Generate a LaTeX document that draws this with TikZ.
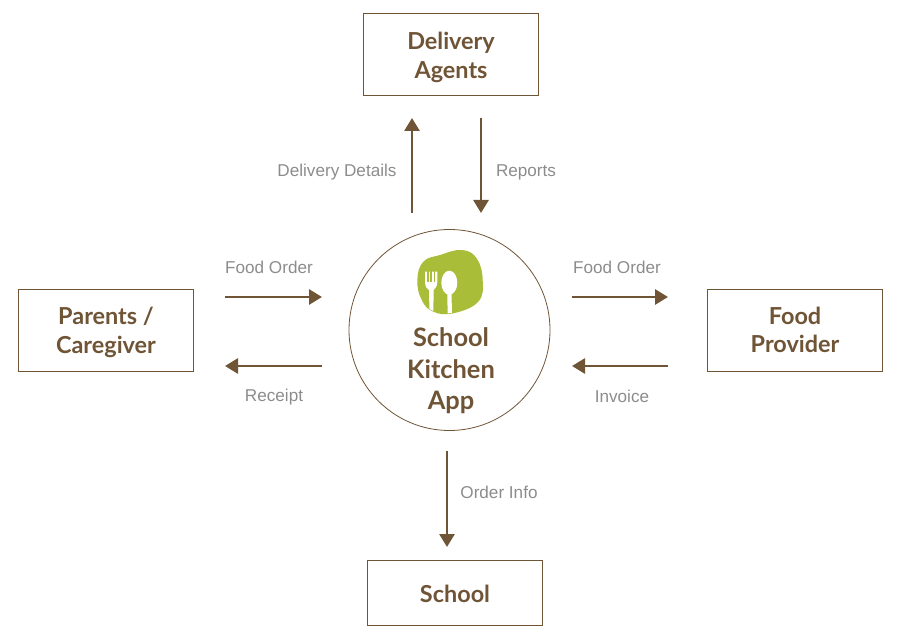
\documentclass[tikz,border=0pt]{standalone}
\usepackage{fontspec}
\usepackage{xcolor}
\setmainfont{Liberation Sans}
\newfontfamily\headfont{Lato Bold}
\usetikzlibrary{arrows.meta}
\definecolor{kitchenbrown}{HTML}{6F5436}
\definecolor{kitchengreen}{HTML}{A9BD38}
\definecolor{labelgray}{HTML}{8C8C8C}
\newcommand{\headstrut}[1]{\rule{0pt}{#1bp}}
\tikzset{
	actorbox/.style={draw=kitchenbrown,line width=0.8pt,minimum width=175.5bp,inner sep=0pt,align=center,text=kitchenbrown,font=\headfont\fontsize{23.5}{28.5}\selectfont},
	flowarrow/.style={draw=kitchenbrown,line width=2.8bp,-{Triangle[length=13bp,width=15bp]}},
	flowlabel/.style={text=labelgray,font=\fontsize{17.2}{20}\selectfont,inner sep=0pt}
}
\begin{document}
\begin{tikzpicture}[x=1bp,y=-1bp]
	\useasboundingbox (0,0)rectangle(900,636);
	\node[actorbox,minimum height=82bp] (delivery) at (451,54) {\headstrut{24.5}Delivery\\Agents};
	\node[actorbox,minimum height=82bp] (parents) at (106,330) {\headstrut{22.5}Parents /\\Caregiver};
	\node[actorbox,minimum height=82bp] (provider) at (795,330) {Food\\Provider};
	\node[actorbox,minimum height=65bp] (school) at (455,592.5) {\headstrut{20.5}School};
	\node[draw=kitchenbrown,line width=0.8pt,circle,minimum size=201bp,inner sep=0pt] (app) at (449.5,330) {};
	\fill[kitchengreen] plot[smooth cycle,tension=0.7] coordinates {(417.3,280)(423.3,261.7)(440,255)(461.7,250)(476.7,258.3)(482.7,280)(478.3,301.7)(453.3,313.3)(433.3,311.7)(421.7,300)};
	% fork
	\fill[white] (425,271.5)--(437.3,271.5)--(437.3,282) .. controls (437.3,287) and (434.5,289) .. (433.6,290)--(433.4,311)--(429.4,309)--(429,290) .. controls (427.5,289) and (425,287) .. (425,282)--cycle;
	\fill[kitchengreen] (427.2,271)rectangle(428.6,282);
	\fill[kitchengreen] (430.4,271)rectangle(431.8,282);
	\fill[kitchengreen] (433.6,271)rectangle(435,282);
	% spoon
	\fill[white] (449.3,282.7) ellipse (8 and 12);
	\fill[white] (447.3,290)--(451.4,290)--(452,313)--(447.6,313.4)--cycle;
	\node[text=kitchenbrown,align=center,inner sep=0pt,font=\headfont\fontsize{25.5}{31.5}\selectfont] (applabel) at (451,371) {School\\Kitchen\\App};
	\coordinate (detailsA) at (412,213);
	\coordinate (detailsB) at (412,118);
	\coordinate (reportsA) at (481,118);
	\coordinate (reportsB) at (481,213);
	\coordinate (orderA) at (225,297);
	\coordinate (orderB) at (322,297);
	\coordinate (receiptA) at (322,366);
	\coordinate (receiptB) at (225,366);
	\coordinate (supplyA) at (572,297);
	\coordinate (supplyB) at (668,297);
	\coordinate (invoiceA) at (668,366);
	\coordinate (invoiceB) at (572,366);
	\coordinate (infoA) at (447,451);
	\coordinate (infoB) at (447,547);
	\draw[flowarrow] (detailsA)--(detailsB);
	\draw[flowarrow] (reportsA)--(reportsB);
	\draw[flowarrow] (orderA)--(orderB);
	\draw[flowarrow] (receiptA)--(receiptB);
	\draw[flowarrow] (supplyA)--(supplyB);
	\draw[flowarrow] (invoiceA)--(invoiceB);
	\draw[flowarrow] (infoA)--(infoB);
	\node[flowlabel] (detailslabel) at (337,172.5) {Delivery Details};
	\node[flowlabel] (reportslabel) at (526,172.5) {Reports};
	\node[flowlabel] (orderlabel) at (269,267) {Food Order};
	\node[flowlabel] (receiptlabel) at (274,397.5) {Receipt};
	\node[flowlabel] (supplylabel) at (617,267) {Food Order};
	\node[flowlabel] (invoicelabel) at (622,396) {Invoice};
	\node[flowlabel] (infolabel) at (499,492) {Order Info};
\end{tikzpicture}
\end{document}
